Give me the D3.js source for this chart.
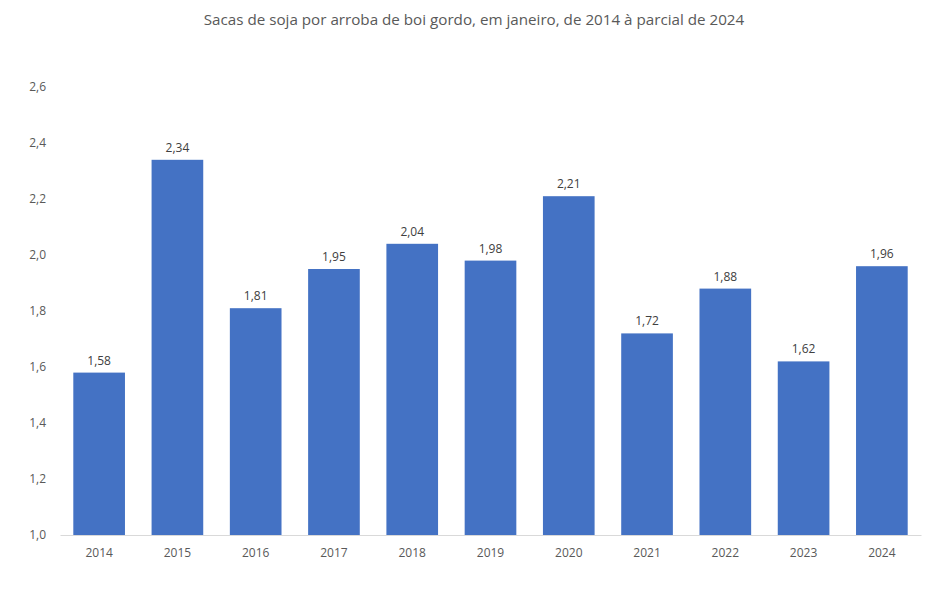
<!DOCTYPE html>
<html>
<head>
<meta charset="utf-8">
<script src="https://cdn.jsdelivr.net/npm/d3@7"></script>
<style>
  body { margin: 0; background: #fff; }
  svg { font-family: "Open Sans", "Noto Sans", sans-serif; }
</style>
</head>
<body>
<svg id="chart"></svg>
<script>
const years = ["2014", "2015", "2016", "2017", "2018", "2019", "2020", "2021", "2022", "2023", "2024"];
const values = [1.58, 2.34, 1.81, 1.95, 2.04, 1.98, 2.21, 1.72, 1.88, 1.62, 1.96];
const yTicks = [1.0, 1.2, 1.4, 1.6, 1.8, 2.0, 2.2, 2.4, 2.6];
const title = "Sacas de soja por arroba de boi gordo, em janeiro, de 2014 à parcial de 2024";

const width = 948, height = 589;
const margin = {top: 87, right: 27, bottom: 54, left: 60};

const svg = d3.select("#chart")
    .attr("width", width)
    .attr("height", height);

const x = d3.scaleBand()
    .domain(years)
    .range([margin.left, width - margin.right])
    .paddingInner(0.34)
    .paddingOuter(0.17);

const y = d3.scaleLinear()
    .domain([1.0, 2.6])
    .range([height - margin.bottom, margin.top]);

const fmt = v => d3.format(".2f")(v).replace(".", ",");
const fmtTick = v => d3.format(".1f")(v).replace(".", ",");

// title
svg.append("text")
    .attr("x", width / 2)
    .attr("y", 25)
    .attr("text-anchor", "middle")
    .attr("fill", "#595959")
    .style("font-size", "15.2px")
    .text(title);

// bars
svg.selectAll(".bar")
    .data(values)
    .join("rect")
    .attr("class", "bar")
    .attr("x", (d, i) => x(years[i]))
    .attr("y", d => y(d))
    .attr("width", x.bandwidth())
    .attr("height", d => y(1.0) - y(d))
    .attr("fill", "#4472C4");

// data labels
svg.selectAll(".label")
    .data(values)
    .join("text")
    .attr("class", "label")
    .attr("x", (d, i) => x(years[i]) + x.bandwidth() / 2)
    .attr("y", d => y(d) - 8)
    .attr("text-anchor", "middle")
    .attr("fill", "#404040")
    .style("font-size", "12px")
    .text(fmt);

// y axis (labels only)
const yAxis = svg.append("g")
    .attr("transform", `translate(${margin.left},0)`)
    .call(d3.axisLeft(y).tickValues(yTicks).tickFormat(fmtTick).tickSize(0).tickPadding(14));
yAxis.select(".domain").remove();
yAxis.selectAll("text")
    .attr("fill", "#595959")
    .style("font-size", "12px")
    .style("font-family", "'Open Sans', sans-serif");

// x axis
const xAxis = svg.append("g")
    .attr("transform", `translate(0,${y(1.0)})`)
    .call(d3.axisBottom(x).tickSize(0).tickPadding(13));
xAxis.select(".domain")
    .attr("stroke", "#d9d9d9")
    .attr("stroke-width", 1);
xAxis.selectAll("text")
    .attr("fill", "#595959")
    .style("font-size", "12px")
    .style("font-family", "'Open Sans', sans-serif");
</script>
</body>
</html>
